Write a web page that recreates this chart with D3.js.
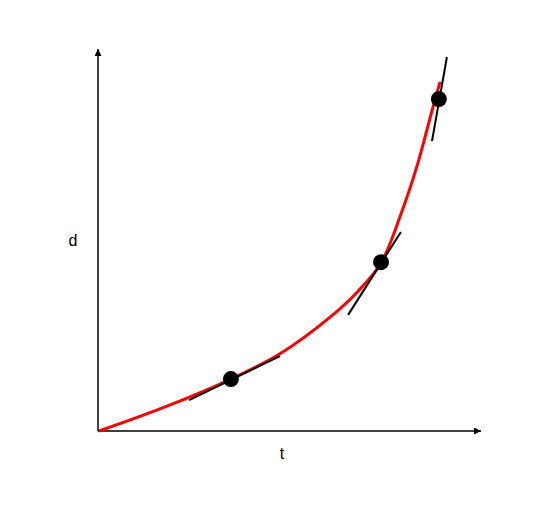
<!DOCTYPE html>
<html>
<head>
<meta charset="utf-8">
<script src="https://cdn.jsdelivr.net/npm/d3@7/dist/d3.min.js"></script>
<style>
  html, body { margin: 0; padding: 0; background: #fff; }
  svg { display: block; }
</style>
</head>
<body>
<div id="chart"></div>
<script>
// ---- data (in abstract t/d units, 0..100) ----
const curveT = [0.3, 17.5, 34.7, 47.5, 60.6, 67.9, 73.9, 79.1, 83.6, 86.9, 89.3];
const curveD = [0, 6.3, 13.6, 20.2, 29.8, 36.6, 44.0, 56.8, 70.4, 82.7, 91.4];

const pointT = [34.7, 73.9, 89.0];
const pointD = [13.6, 44.2, 86.9];

const tangentT1 = [23.8, 65.3, 87.2];
const tangentD1 = [8.1, 30.4, 75.9];
const tangentT2 = [47.5, 79.1, 91.1];
const tangentD2 = [19.6, 52.1, 97.9];

const axisLabels = { x: "t", y: "d" };

// ---- layout ----
const W = 549, H = 512;
const svg = d3.select("#chart").append("svg").attr("width", W).attr("height", H);

const x = d3.scaleLinear().domain([0, 100]).range([98, 481]);
const y = d3.scaleLinear().domain([0, 100]).range([431, 49]);

// arrow marker
const defs = svg.append("defs");
defs.append("marker")
  .attr("id", "arrow")
  .attr("viewBox", "0 0 10 10")
  .attr("refX", 10).attr("refY", 5)
  .attr("markerWidth", 8).attr("markerHeight", 7)
  .attr("markerUnits", "userSpaceOnUse")
  .attr("orient", "auto")
  .append("path").attr("d", "M0,0 L10,5 L0,10 Z").attr("fill", "#000");

// axes
svg.append("line")
  .attr("x1", x(0)).attr("y1", y(0)).attr("x2", x(100)).attr("y2", y(0))
  .attr("stroke", "#000").attr("stroke-width", 1.5).attr("marker-end", "url(#arrow)");
svg.append("line")
  .attr("x1", x(0)).attr("y1", y(0)).attr("x2", x(0)).attr("y2", y(100))
  .attr("stroke", "#000").attr("stroke-width", 1.5).attr("marker-end", "url(#arrow)");

// curve
const curveData = curveT.map((t, i) => [t, curveD[i]]);
svg.append("path")
  .datum(curveData)
  .attr("fill", "none")
  .attr("stroke", "#ff0000")
  .attr("stroke-width", 3)
  .attr("d", d3.line().x(d => x(d[0])).y(d => y(d[1])).curve(d3.curveCatmullRom.alpha(0.5)));

// tangents
const tangents = tangentT1.map((t, i) => ({ t1: t, d1: tangentD1[i], t2: tangentT2[i], d2: tangentD2[i] }));
svg.selectAll("line.tangent").data(tangents).enter().append("line")
  .attr("class", "tangent")
  .attr("x1", d => x(d.t1)).attr("y1", d => y(d.d1))
  .attr("x2", d => x(d.t2)).attr("y2", d => y(d.d2))
  .attr("stroke", "#000").attr("stroke-width", 2);

// points
const pts = pointT.map((t, i) => ({ t, d: pointD[i] }));
svg.selectAll("circle.pt").data(pts).enter().append("circle")
  .attr("class", "pt")
  .attr("cx", d => x(d.t)).attr("cy", d => y(d.d))
  .attr("r", 8).attr("fill", "#000");

// labels
svg.append("text")
  .attr("x", 282).attr("y", 459)
  .attr("text-anchor", "middle")
  .attr("font-family", "Liberation Sans, Arial, sans-serif")
  .attr("font-size", 16)
  .text(axisLabels.x);
svg.append("text")
  .attr("x", 73).attr("y", 246)
  .attr("text-anchor", "middle")
  .attr("font-family", "Liberation Sans, Arial, sans-serif")
  .attr("font-size", 16)
  .text(axisLabels.y);
</script>
</body>
</html>
